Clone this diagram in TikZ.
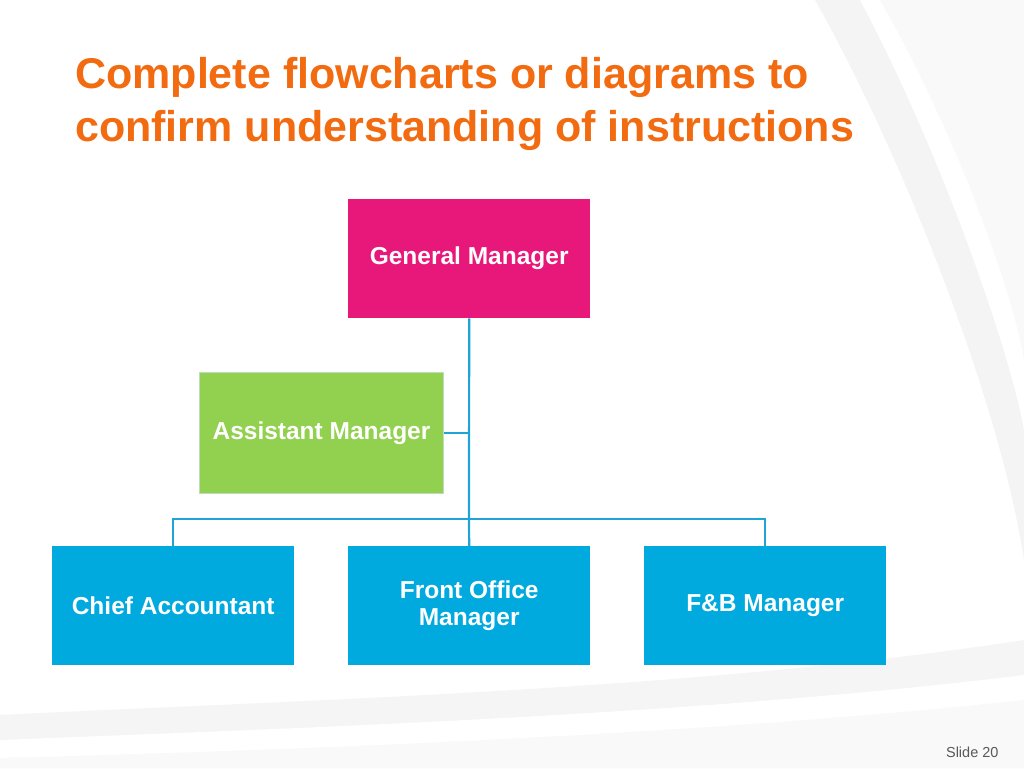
\documentclass[tikz,border=0pt]{standalone}
\usepackage{fontspec}
\setmainfont{Liberation Sans}
\begin{document}
\begin{tikzpicture}[x=1pt,y=-1pt,
  box/.style={minimum width=242pt,minimum height=119pt,anchor=north west,inner sep=0pt,text=white,font=\bfseries\fontsize{24.5}{27}\selectfont,align=center},
  conn/.style={draw=lineblue,line width=2.2pt}]
\definecolor{orangeT}{HTML}{F26B10}
\definecolor{pinkB}{HTML}{E8177A}
\definecolor{greenB}{HTML}{92D050}
\definecolor{blueB}{HTML}{00A9DE}
\definecolor{lineblue}{HTML}{1FA4D8}
\useasboundingbox (0,0) rectangle (1024,768);
\fill[white] (0,0) rectangle (1024,768);
% background swooshes
\fill[gray!9] (815,0) .. controls (900,150) and (1000,400) .. (1024,560) -- (1024,0) -- cycle;
\fill[white] (860,0) .. controls (940,150) and (1010,350) .. (1024,430) -- (1024,0) -- cycle;
\fill[gray!5] (880,0) .. controls (960,140) and (1015,300) .. (1024,360) -- (1024,0) -- cycle;
\fill[gray!8] (0,715) .. controls (300,700) and (700,690) .. (1024,640) -- (1024,768) -- (0,768) -- cycle;
\fill[white] (0,740) .. controls (300,728) and (700,715) .. (1024,675) -- (1024,768) -- (0,768) -- cycle;
\fill[gray!5] (0,758) .. controls (300,750) and (700,735) .. (1024,700) -- (1024,768) -- (0,768) -- cycle;
% title
\node[anchor=west,text=orangeT,font=\bfseries\fontsize{43}{48}\selectfont,inner sep=0pt] (t1) at (75,77) {Complete flowcharts or diagrams to};
\node[anchor=west,text=orangeT,font=\bfseries\fontsize{43}{48}\selectfont,inner sep=0pt] (t2) at (75,130) {confirm understanding of instructions};
% boxes
\node[box,fill=pinkB] (gm) at (348,199) {General Manager};
\node[box,fill=greenB,draw=green!30!gray!40,line width=1pt,minimum width=244pt,minimum height=121pt] (am) at (199,372) {Assistant Manager};
\node[box,fill=blueB] (ca) at (52,546) {Chief Accountant};
\node[box,fill=blueB,font=\bfseries\fontsize{24.5}{27}\selectfont] (fo) at (348,546) {Front Office\\Manager};
\node[box,fill=blueB] (fb) at (644,546) {F\&B Manager};
\coordinate (j) at (469,519);
\draw[conn] (gm.south) -- (j);
\draw[conn] (am.east) -- (469,433);
\draw[conn] (ca.north) |- (j) -| (fb.north);
\draw[conn] (j) -- (fo.north);
\node[anchor=east,text=gray!70!black,font=\fontsize{14.5}{16}\selectfont] (sl) at (1002,752) {Slide 20};
\end{tikzpicture}
\end{document}
